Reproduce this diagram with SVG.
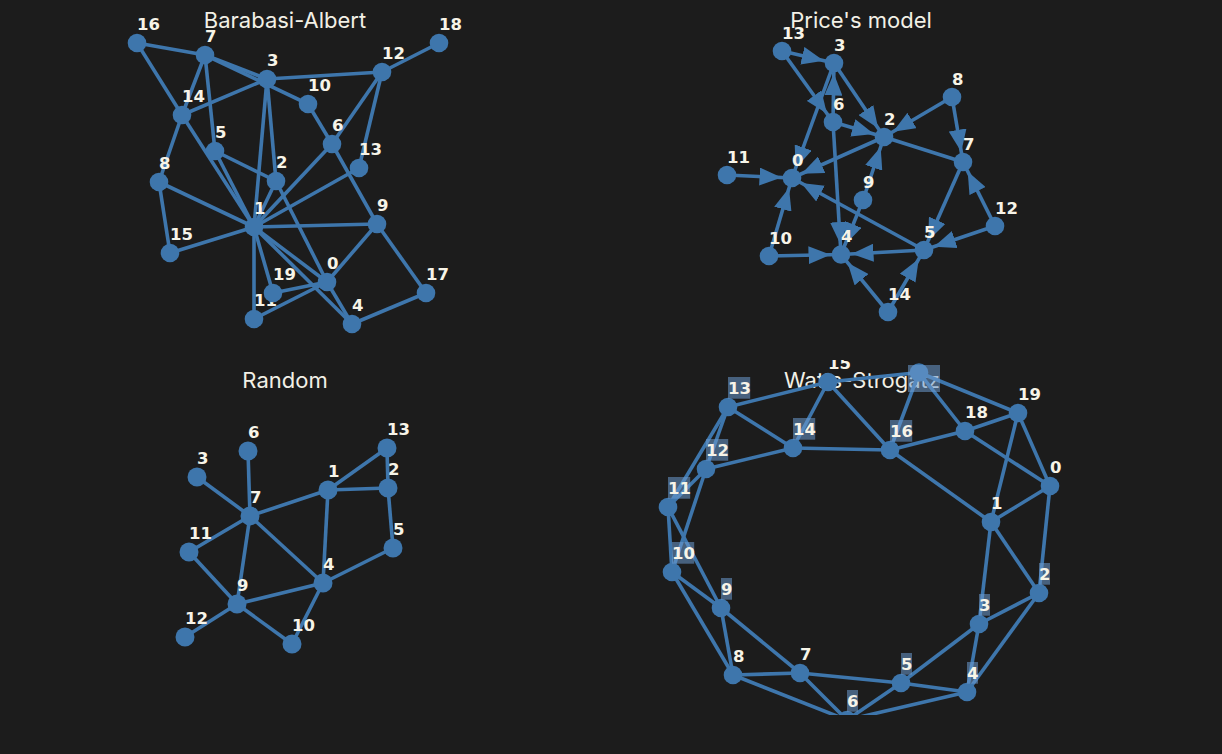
<svg xmlns="http://www.w3.org/2000/svg" width="1222" height="754" viewBox="0 0 1222 754">
<style>
.bg{fill:#1c1c1c}
.title{font-family:Inter,"Liberation Sans",sans-serif;font-size:22px;fill:#f2f0e6;text-anchor:middle}
.e line{stroke:#3e76ac;stroke-width:3.6}
.n circle{fill:#3e76ac}
.lb{font-family:"DejaVu Sans",sans-serif;font-weight:bold;font-size:16.5px;fill:#f7f4e8}
.bx{fill:#6b9bd0;fill-opacity:0.55}
</style>
<defs>
<marker id="arr" markerUnits="userSpaceOnUse" viewBox="0 -9 22 18" refX="32.5" refY="0" markerWidth="22" markerHeight="18" orient="auto"><path d="M0,-9L22,0L0,9Z" fill="#3e76ac"/></marker>
<clipPath id="wsclip"><rect x="611" y="360" width="611" height="355"/></clipPath>
</defs>
<rect class="bg" width="1222" height="754"/>

<!-- Barabasi-Albert -->
<g id="ba">
<text class="title" x="285" y="28">Barabasi-Albert</text>
<g id="ba-edges" class="e">
<line x1="137" y1="43" x2="205" y2="55"/>
<line x1="137" y1="43" x2="182" y2="115"/>
<line x1="205" y1="55" x2="267" y2="79"/>
<line x1="205" y1="55" x2="308" y2="104"/>
<line x1="205" y1="55" x2="182" y2="115"/>
<line x1="205" y1="55" x2="215" y2="151"/>
<line x1="267" y1="79" x2="382" y2="72"/>
<line x1="267" y1="79" x2="182" y2="115"/>
<line x1="267" y1="79" x2="254" y2="227"/>
<line x1="267" y1="79" x2="276" y2="181"/>
<line x1="382" y1="72" x2="439" y2="43"/>
<line x1="382" y1="72" x2="332" y2="144"/>
<line x1="382" y1="72" x2="359" y2="168"/>
<line x1="308" y1="104" x2="332" y2="144"/>
<line x1="332" y1="144" x2="254" y2="227"/>
<line x1="332" y1="144" x2="377" y2="224"/>
<line x1="182" y1="115" x2="159" y2="182"/>
<line x1="182" y1="115" x2="254" y2="227"/>
<line x1="215" y1="151" x2="254" y2="227"/>
<line x1="215" y1="151" x2="276" y2="181"/>
<line x1="276" y1="181" x2="254" y2="227"/>
<line x1="276" y1="181" x2="327" y2="282"/>
<line x1="159" y1="182" x2="254" y2="227"/>
<line x1="159" y1="182" x2="170" y2="253"/>
<line x1="170" y1="253" x2="254" y2="227"/>
<line x1="359" y1="168" x2="254" y2="227"/>
<line x1="254" y1="227" x2="377" y2="224"/>
<line x1="377" y1="224" x2="327" y2="282"/>
<line x1="377" y1="224" x2="426" y2="293"/>
<line x1="426" y1="293" x2="352" y2="324"/>
<line x1="254" y1="227" x2="254" y2="319"/>
<line x1="254" y1="227" x2="273" y2="293"/>
<line x1="254" y1="227" x2="327" y2="282"/>
<line x1="254" y1="227" x2="352" y2="324"/>
<line x1="273" y1="293" x2="327" y2="282"/>
<line x1="254" y1="319" x2="327" y2="282"/>
<line x1="327" y1="282" x2="352" y2="324"/>
</g>
<g id="ba-n0" class="n"><circle cx="327" cy="282" r="9.3"/><text class="lb" x="327" y="269">0</text></g>
<g id="ba-n1" class="n"><circle cx="254" cy="227" r="9.3"/><text class="lb" x="254" y="214">1</text></g>
<g id="ba-n2" class="n"><circle cx="276" cy="181" r="9.3"/><text class="lb" x="276" y="168">2</text></g>
<g id="ba-n3" class="n"><circle cx="267" cy="79" r="9.3"/><text class="lb" x="267" y="66">3</text></g>
<g id="ba-n4" class="n"><circle cx="352" cy="324" r="9.3"/><text class="lb" x="352" y="311">4</text></g>
<g id="ba-n5" class="n"><circle cx="215" cy="151" r="9.3"/><text class="lb" x="215" y="138">5</text></g>
<g id="ba-n6" class="n"><circle cx="332" cy="144" r="9.3"/><text class="lb" x="332" y="131">6</text></g>
<g id="ba-n7" class="n"><circle cx="205" cy="55" r="9.3"/><text class="lb" x="205" y="42">7</text></g>
<g id="ba-n8" class="n"><circle cx="159" cy="182" r="9.3"/><text class="lb" x="159" y="169">8</text></g>
<g id="ba-n9" class="n"><circle cx="377" cy="224" r="9.3"/><text class="lb" x="377" y="211">9</text></g>
<g id="ba-n10" class="n"><circle cx="308" cy="104" r="9.3"/><text class="lb" x="308" y="91">10</text></g>
<g id="ba-n11" class="n"><circle cx="254" cy="319" r="9.3"/><text class="lb" x="254" y="306">11</text></g>
<g id="ba-n12" class="n"><circle cx="382" cy="72" r="9.3"/><text class="lb" x="382" y="59">12</text></g>
<g id="ba-n13" class="n"><circle cx="359" cy="168" r="9.3"/><text class="lb" x="359" y="155">13</text></g>
<g id="ba-n14" class="n"><circle cx="182" cy="115" r="9.3"/><text class="lb" x="182" y="102">14</text></g>
<g id="ba-n15" class="n"><circle cx="170" cy="253" r="9.3"/><text class="lb" x="170" y="240">15</text></g>
<g id="ba-n16" class="n"><circle cx="137" cy="43" r="9.3"/><text class="lb" x="137" y="30">16</text></g>
<g id="ba-n17" class="n"><circle cx="426" cy="293" r="9.3"/><text class="lb" x="426" y="280">17</text></g>
<g id="ba-n18" class="n"><circle cx="439" cy="43" r="9.3"/><text class="lb" x="439" y="30">18</text></g>
<g id="ba-n19" class="n"><circle cx="273" cy="293" r="9.3"/><text class="lb" x="273" y="280">19</text></g>
</g>

<!-- Price's model -->
<g id="price">
<text class="title" x="861" y="28">Price's model</text>
<g id="price-edges" class="e">
<line x1="782" y1="51" x2="834" y2="63" marker-end="url(#arr)"/>
<line x1="782" y1="51" x2="833" y2="122" marker-end="url(#arr)"/>
<line x1="833" y1="122" x2="834" y2="63" marker-end="url(#arr)"/>
<line x1="834" y1="63" x2="792" y2="178" marker-end="url(#arr)"/>
<line x1="834" y1="63" x2="884" y2="137" marker-end="url(#arr)"/>
<line x1="833" y1="122" x2="884" y2="137" marker-end="url(#arr)"/>
<line x1="952" y1="97" x2="884" y2="137" marker-end="url(#arr)"/>
<line x1="952" y1="97" x2="963" y2="162" marker-end="url(#arr)"/>
<line x1="884" y1="137" x2="963" y2="162"/>
<line x1="884" y1="137" x2="792" y2="178" marker-end="url(#arr)"/>
<line x1="727" y1="175" x2="792" y2="178" marker-end="url(#arr)"/>
<line x1="769" y1="256" x2="792" y2="178" marker-end="url(#arr)"/>
<line x1="769" y1="256" x2="841" y2="254.5" marker-end="url(#arr)"/>
<line x1="863" y1="200" x2="884" y2="137" marker-end="url(#arr)"/>
<line x1="863" y1="200" x2="841" y2="254.5" marker-end="url(#arr)"/>
<line x1="833" y1="122" x2="841" y2="254.5" marker-end="url(#arr)"/>
<line x1="924" y1="250" x2="792" y2="178" marker-end="url(#arr)"/>
<line x1="924" y1="250" x2="841" y2="254.5" marker-end="url(#arr)"/>
<line x1="963" y1="162" x2="924" y2="250" marker-end="url(#arr)"/>
<line x1="995" y1="226" x2="963" y2="162" marker-end="url(#arr)"/>
<line x1="995" y1="226" x2="924" y2="250" marker-end="url(#arr)"/>
<line x1="888" y1="312" x2="841" y2="254.5" marker-end="url(#arr)"/>
<line x1="888" y1="312" x2="924" y2="250" marker-end="url(#arr)"/>
</g>
<g id="price-n0" class="n"><circle cx="792" cy="178" r="9.3"/><text class="lb" x="792" y="165.5">0</text></g>
<g id="price-n2" class="n"><circle cx="884" cy="137" r="9.3"/><text class="lb" x="884" y="124.5">2</text></g>
<g id="price-n3" class="n"><circle cx="834" cy="63" r="9.3"/><text class="lb" x="834" y="50.5">3</text></g>
<g id="price-n4" class="n"><circle cx="841" cy="254.5" r="9.3"/><text class="lb" x="841" y="242">4</text></g>
<g id="price-n5" class="n"><circle cx="924" cy="250" r="9.3"/><text class="lb" x="924" y="237.5">5</text></g>
<g id="price-n6" class="n"><circle cx="833" cy="122" r="9.3"/><text class="lb" x="833" y="109.5">6</text></g>
<g id="price-n7" class="n"><circle cx="963" cy="162" r="9.3"/><text class="lb" x="963" y="149.5">7</text></g>
<g id="price-n8" class="n"><circle cx="952" cy="97" r="9.3"/><text class="lb" x="952" y="84.5">8</text></g>
<g id="price-n9" class="n"><circle cx="863" cy="200" r="9.3"/><text class="lb" x="863" y="187.5">9</text></g>
<g id="price-n10" class="n"><circle cx="769" cy="256" r="9.3"/><text class="lb" x="769" y="243.5">10</text></g>
<g id="price-n11" class="n"><circle cx="727" cy="175" r="9.3"/><text class="lb" x="727" y="162.5">11</text></g>
<g id="price-n12" class="n"><circle cx="995" cy="226" r="9.3"/><text class="lb" x="995" y="213.5">12</text></g>
<g id="price-n13" class="n"><circle cx="782" cy="51" r="9.3"/><text class="lb" x="782" y="38.5">13</text></g>
<g id="price-n14" class="n"><circle cx="888" cy="312" r="9.3"/><text class="lb" x="888" y="299.5">14</text></g>
</g>

<!-- Random -->
<g id="random">
<text class="title" x="285" y="388">Random</text>
<g id="random-edges" class="e">
<line x1="248" y1="451" x2="250" y2="516"/>
<line x1="197" y1="477" x2="250" y2="516"/>
<line x1="250" y1="516" x2="328" y2="490"/>
<line x1="250" y1="516" x2="189" y2="552"/>
<line x1="250" y1="516" x2="237" y2="604"/>
<line x1="250" y1="516" x2="323" y2="583"/>
<line x1="328" y1="490" x2="387" y2="448"/>
<line x1="328" y1="490" x2="388" y2="488"/>
<line x1="387" y1="448" x2="388" y2="488"/>
<line x1="328" y1="490" x2="323" y2="583"/>
<line x1="388" y1="488" x2="393" y2="548"/>
<line x1="393" y1="548" x2="323" y2="583"/>
<line x1="323" y1="583" x2="237" y2="604"/>
<line x1="323" y1="583" x2="292" y2="644"/>
<line x1="189" y1="552" x2="237" y2="604"/>
<line x1="237" y1="604" x2="185" y2="637"/>
<line x1="237" y1="604" x2="292" y2="644"/>
</g>
<g id="random-n1" class="n"><circle cx="328" cy="490" r="9.5"/><text class="lb" x="328" y="477">1</text></g>
<g id="random-n2" class="n"><circle cx="388" cy="488" r="9.5"/><text class="lb" x="388" y="475">2</text></g>
<g id="random-n3" class="n"><circle cx="197" cy="477" r="9.5"/><text class="lb" x="197" y="464">3</text></g>
<g id="random-n4" class="n"><circle cx="323" cy="583" r="9.5"/><text class="lb" x="323" y="570">4</text></g>
<g id="random-n5" class="n"><circle cx="393" cy="548" r="9.5"/><text class="lb" x="393" y="535">5</text></g>
<g id="random-n6" class="n"><circle cx="248" cy="451" r="9.5"/><text class="lb" x="248" y="438">6</text></g>
<g id="random-n7" class="n"><circle cx="250" cy="516" r="9.5"/><text class="lb" x="250" y="503">7</text></g>
<g id="random-n9" class="n"><circle cx="237" cy="604" r="9.5"/><text class="lb" x="237" y="591">9</text></g>
<g id="random-n10" class="n"><circle cx="292" cy="644" r="9.5"/><text class="lb" x="292" y="631">10</text></g>
<g id="random-n11" class="n"><circle cx="189" cy="552" r="9.5"/><text class="lb" x="189" y="539">11</text></g>
<g id="random-n12" class="n"><circle cx="185" cy="637" r="9.5"/><text class="lb" x="185" y="624">12</text></g>
<g id="random-n13" class="n"><circle cx="387" cy="448" r="9.5"/><text class="lb" x="387" y="435">13</text></g>
</g>

<!-- Watts-Strogatz -->
<g id="ws">
<text class="title" x="862" y="387.5">Watts-Strogatz</text>
<g clip-path="url(#wsclip)">
<g id="ws-edges" class="e">
<line x1="828" y1="382" x2="728" y2="407"/>
<line x1="828" y1="382" x2="919" y2="372.5"/>
<line x1="828" y1="382" x2="793" y2="448"/>
<line x1="828" y1="382" x2="890" y2="450"/>
<line x1="919" y1="372.5" x2="890" y2="450"/>
<line x1="919" y1="372.5" x2="965" y2="431"/>
<line x1="919" y1="372.5" x2="1018" y2="413"/>
<line x1="728" y1="407" x2="793" y2="448"/>
<line x1="728" y1="407" x2="706" y2="469"/>
<line x1="728" y1="407" x2="668" y2="507"/>
<line x1="793" y1="448" x2="706" y2="469"/>
<line x1="793" y1="448" x2="890" y2="450"/>
<line x1="890" y1="450" x2="965" y2="431"/>
<line x1="890" y1="450" x2="991" y2="522"/>
<line x1="965" y1="431" x2="1018" y2="413"/>
<line x1="965" y1="431" x2="1050" y2="486"/>
<line x1="1018" y1="413" x2="1050" y2="486"/>
<line x1="1018" y1="413" x2="991" y2="522"/>
<line x1="1050" y1="486" x2="991" y2="522"/>
<line x1="1050" y1="486" x2="1039" y2="593"/>
<line x1="991" y1="522" x2="1039" y2="593"/>
<line x1="991" y1="522" x2="979" y2="624"/>
<line x1="1039" y1="593" x2="979" y2="624"/>
<line x1="1039" y1="593" x2="967" y2="692"/>
<line x1="979" y1="624" x2="967" y2="692"/>
<line x1="979" y1="624" x2="901" y2="683"/>
<line x1="967" y1="692" x2="901" y2="683"/>
<line x1="967" y1="692" x2="847" y2="720"/>
<line x1="901" y1="683" x2="847" y2="720"/>
<line x1="901" y1="683" x2="800" y2="673"/>
<line x1="800" y1="673" x2="847" y2="720"/>
<line x1="800" y1="673" x2="733" y2="675"/>
<line x1="800" y1="673" x2="721" y2="608"/>
<line x1="733" y1="675" x2="847" y2="720"/>
<line x1="733" y1="675" x2="721" y2="608"/>
<line x1="733" y1="675" x2="672" y2="572"/>
<line x1="721" y1="608" x2="672" y2="572"/>
<line x1="721" y1="608" x2="668" y2="507"/>
<line x1="672" y1="572" x2="668" y2="507"/>
<line x1="672" y1="572" x2="706" y2="469"/>
<line x1="668" y1="507" x2="706" y2="469"/>
</g>
<g id="ws-n0" class="n"><circle cx="1050" cy="486" r="9.3"/><text class="lb" x="1050" y="473">0</text></g>
<g id="ws-n1" class="n"><circle cx="991" cy="522" r="9.3"/><text class="lb" x="991" y="509">1</text></g>
<g id="ws-n2" class="n"><circle cx="1039" cy="593" r="9.3"/><rect class="bx" x="1039" y="563" width="11" height="21.7"/><text class="lb" x="1039" y="579.5">2</text></g>
<g id="ws-n3" class="n"><circle cx="979" cy="624" r="9.3"/><rect class="bx" x="979" y="594" width="11" height="21.7"/><text class="lb" x="979" y="610.5">3</text></g>
<g id="ws-n4" class="n"><circle cx="967" cy="692" r="9.3"/><rect class="bx" x="967" y="662" width="11" height="21.7"/><text class="lb" x="967" y="678.5">4</text></g>
<g id="ws-n5" class="n"><circle cx="901" cy="683" r="9.3"/><rect class="bx" x="901" y="653" width="11" height="21.7"/><text class="lb" x="901" y="669.5">5</text></g>
<g id="ws-n6" class="n"><circle cx="847" cy="720" r="9.3"/><rect class="bx" x="847" y="690" width="11" height="21.7"/><text class="lb" x="847" y="706.5">6</text></g>
<g id="ws-n7" class="n"><circle cx="800" cy="673" r="9.3"/><text class="lb" x="800" y="660">7</text></g>
<g id="ws-n8" class="n"><circle cx="733" cy="675" r="9.3"/><text class="lb" x="733" y="662">8</text></g>
<g id="ws-n9" class="n"><circle cx="721" cy="608" r="9.3"/><rect class="bx" x="721" y="578" width="11" height="21.7"/><text class="lb" x="721" y="594.5">9</text></g>
<g id="ws-n10" class="n"><circle cx="672" cy="572" r="9.3"/><rect class="bx" x="672" y="542" width="22.2" height="21.7"/><text class="lb" x="672" y="558.5">10</text></g>
<g id="ws-n11" class="n"><circle cx="668" cy="507" r="9.3"/><rect class="bx" x="668" y="477" width="22.2" height="21.7"/><text class="lb" x="668" y="493.5">11</text></g>
<g id="ws-n12" class="n"><circle cx="706" cy="469" r="9.3"/><rect class="bx" x="706" y="439" width="22.2" height="21.7"/><text class="lb" x="706" y="455.5">12</text></g>
<g id="ws-n13" class="n"><circle cx="728" cy="407" r="9.3"/><rect class="bx" x="728" y="377" width="22.2" height="21.7"/><text class="lb" x="728" y="393.5">13</text></g>
<g id="ws-n14" class="n"><circle cx="793" cy="448" r="9.3"/><rect class="bx" x="793" y="418" width="22.2" height="21.7"/><text class="lb" x="793" y="434.5">14</text></g>
<g id="ws-n15" class="n"><circle cx="828" cy="382" r="9.3"/><text class="lb" x="828" y="369">15</text></g>
<g id="ws-n16" class="n"><circle cx="890" cy="450" r="9.3"/><rect class="bx" x="890" y="420" width="22.2" height="21.7"/><text class="lb" x="890" y="436.5">16</text></g>
<g id="ws-n17" class="n"><circle cx="919" cy="372.5" r="9.3"/><rect class="bx" x="908" y="365" width="32" height="27"/></g>
<g id="ws-n18" class="n"><circle cx="965" cy="431" r="9.3"/><text class="lb" x="965" y="418">18</text></g>
<g id="ws-n19" class="n"><circle cx="1018" cy="413" r="9.3"/><text class="lb" x="1018" y="400">19</text></g>
</g>
</g>
</svg>
